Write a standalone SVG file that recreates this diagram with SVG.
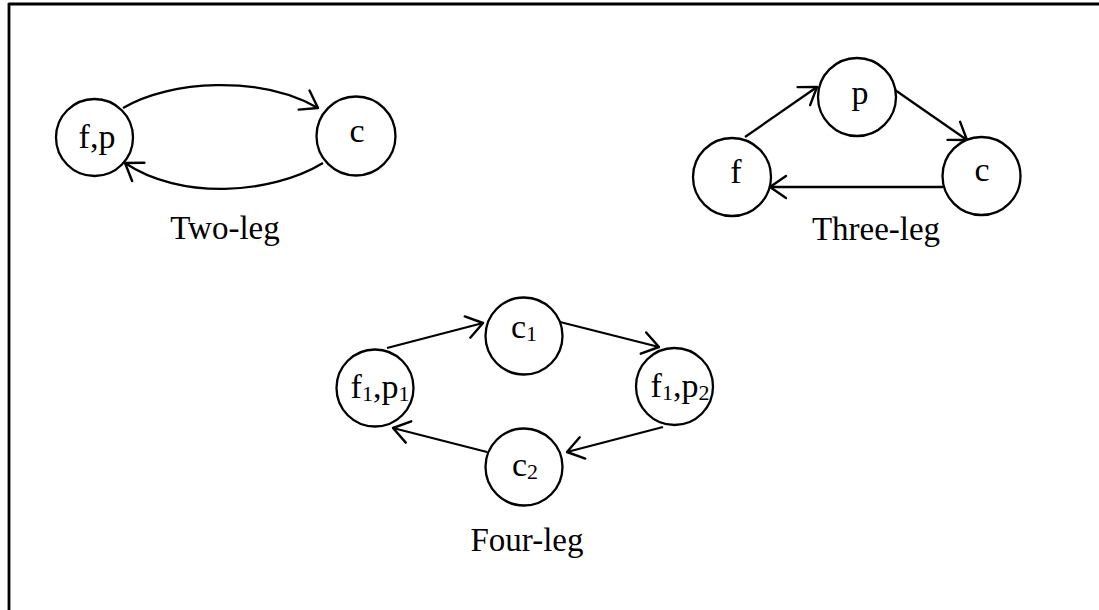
<svg xmlns="http://www.w3.org/2000/svg" width="1099" height="610" viewBox="0 0 1099 610">
<style>
  .node circle { fill: #fff; stroke: #000; stroke-width: 2.3; }
  .lbl { font-family: "Liberation Serif", "Times New Roman", serif; font-size: 34px; fill: #000; text-anchor: middle; }
  .sub { font-size: 22px; }
  .cap { font-family: "Liberation Serif", "Times New Roman", serif; font-size: 33px; fill: #000; text-anchor: middle; }
  .edge { fill: none; stroke: #000; stroke-width: 2.3; marker-end: url(#arr); }
</style>
<defs>
  <marker id="arr" markerUnits="userSpaceOnUse" viewBox="0 0 20 26" refX="18" refY="13" markerWidth="20" markerHeight="26" orient="auto">
    <path d="M2,2 L18,13 L2,24" fill="none" stroke="#000" stroke-width="2.4" stroke-linecap="round" stroke-linejoin="round"/>
  </marker>
</defs>
<rect width="1099" height="610" fill="#fff"/>
<g id="frame" stroke="#000" stroke-width="2.8" fill="none">
  <line x1="8.5" y1="4" x2="1099" y2="4"/>
  <line x1="9" y1="3" x2="9" y2="610"/>
</g>
<g id="connectors">
  <path class="edge" d="M123,108 C170,80 260,75 318,108"/>
  <path class="edge" d="M323,163 C270,195 180,200 125,163"/>
  <path class="edge" d="M745,137 L817,87"/>
  <path class="edge" d="M895,90 L967,140"/>
  <path class="edge" d="M943,187 L770,187"/>
  <path class="edge" d="M387,348 L483,323"/>
  <path class="edge" d="M560,322 L659,347"/>
  <path class="edge" d="M663,427 L567,452"/>
  <path class="edge" d="M487,452 L393,428"/>
</g>
<g id="n-fp" class="node"><circle cx="94.5" cy="137.5" r="38.5"/><text class="lbl" x="97" y="148">f,p</text></g>
<g id="n-c" class="node"><circle cx="356" cy="136" r="39.5"/><text class="lbl" x="357" y="142">c</text></g>
<g id="cap-two"><text class="cap" x="225" y="239">Two-leg</text></g>
<g id="n3-p" class="node"><circle cx="857" cy="97" r="39"/><text class="lbl" x="860" y="104">p</text></g>
<g id="n3-f" class="node"><circle cx="732" cy="177" r="39"/><text class="lbl" x="736" y="183">f</text></g>
<g id="n3-c" class="node"><circle cx="981.5" cy="176" r="39"/><text class="lbl" x="982" y="181">c</text></g>
<g id="cap-three"><text class="cap" x="876" y="240">Three-leg</text></g>
<g id="n4-c1" class="node"><circle cx="524" cy="336" r="38.5"/><text class="lbl" x="524" y="338">c<tspan class="sub" dy="3">1</tspan></text></g>
<g id="n4-f1p1" class="node"><circle cx="375" cy="388" r="38.5"/><text class="lbl" x="380" y="398">f<tspan class="sub" dy="3">1</tspan><tspan dy="-3">,p</tspan><tspan class="sub" dy="3">1</tspan></text></g>
<g id="n4-f1p2" class="node"><circle cx="674.5" cy="386.5" r="38.5"/><text class="lbl" x="680" y="397">f<tspan class="sub" dy="3">1</tspan><tspan dy="-3">,p</tspan><tspan class="sub" dy="3">2</tspan></text></g>
<g id="n4-c2" class="node"><circle cx="524" cy="467" r="38.5"/><text class="lbl" x="525" y="476">c<tspan class="sub" dy="3">2</tspan></text></g>
<g id="cap-four"><text class="cap" x="527" y="551">Four-leg</text></g>
</svg>
